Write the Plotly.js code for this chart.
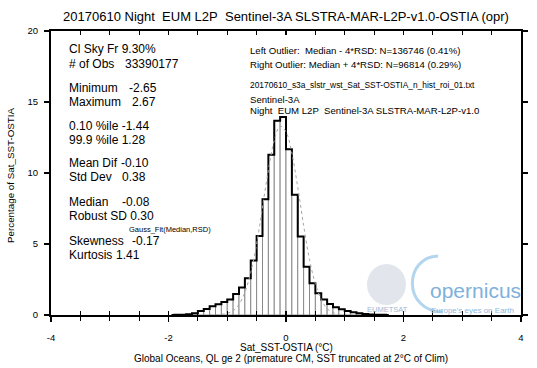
<!DOCTYPE html>
<html>
<head>
<meta charset="utf-8">
<script src="https://cdn.plot.ly/plotly-3.0.1.min.js"></script>
<style>html,body{margin:0;padding:0;background:#fff}#chart{width:537px;height:368px}</style>
</head>
<body>
<div id="chart"></div>
<script>
// ---- data ----
const binCenters = [-1.85,-1.75,-1.65,-1.55,-1.45,-1.35,-1.25,-1.15,-1.05,-0.95,-0.85,-0.75,-0.65,-0.55,-0.45,-0.35,-0.25,-0.15,-0.05,
                    0.05,0.15,0.25,0.35,0.45,0.55,0.65,0.75,0.85,0.95,1.05,1.15,1.25,1.35,1.45,1.55,1.65];
const pctValues  = [0.01,0.02,0.05,0.12,0.28,0.42,0.61,0.75,0.92,1.10,1.48,1.93,2.59,3.83,5.57,8.16,11.28,13.68,13.94,
                    11.68,8.46,5.52,3.40,2.23,1.53,1.10,0.78,0.54,0.40,0.28,0.19,0.12,0.07,0.04,0.02,0.01];
const binWidth = 0.1;
const gaussX = [-1.3,-1.1,-1.0,-0.9,-0.8,-0.7,-0.6,-0.5,-0.4,-0.3,-0.2,-0.1,0.0,0.1,0.2,0.3,0.4,0.5,0.6,0.7,0.8,0.9,1.1];
const gaussY = [0.0,0.04,0.12,0.3,0.75,1.6,3.0,5.0,7.6,10.2,12.3,13.3,12.9,11.4,9.0,6.3,3.9,2.2,1.1,0.45,0.17,0.05,0.0];
const xTickVals = [-4,-2,0,2,4];
const xTickText = ['-4','-2','0','2','4'];
const yTickVals = [0,5,10,15,20];
const yTickText = ['0','5','10','15','20'];
const statLabels = ['Cl Sky Fr 9.30%','# of Obs','Minimum','Maximum','0.10 %ile -1.44','99.9 %ile 1.28',
                    'Mean Dif','Std Dev','Median','Robust SD 0.30','Skewness','Kurtosis'];
const statValues = ['','33390177','-2.65','2.67','','','-0.10','0.38','-0.08','','-0.17','1.41'];
const infoLines = ['Left Outlier:\u00a0 Median - 4*RSD: N=136746 (0.41%)','Right Outlier: Median + 4*RSD: N=96814 (0.29%)'];
const fileLine = '20170610_s3a_slstr_wst_Sat_SST-OSTIA_n_hist_roi_01.txt';
const sensorLines = ['Sentinel-3A','Night\u00a0 EUM L2P\u00a0 Sentinel-3A SLSTRA-MAR-L2P-v1.0'];
const titleText = '20170610 Night\u00a0 EUM L2P\u00a0 Sentinel-3A SLSTRA-MAR-L2P-v1.0-OSTIA (opr)';
const xTitle = 'Sat_SST-OSTIA (\u00b0C)';
const xSubTitle = 'Global Oceans, QL ge 2 (premature CM, SST truncated at 2\u00b0C of Clim)';
const yTitle = 'Percentage of Sat_SST-OSTIA';

// ---- layout geometry ----
const W = 537, H = 368, mL = 51, mR = 16, mT = 31, mB = 53;
const pw = W - mL - mR, ph = H - mT - mB;
const px = v => (v - mL) / pw;          // pixel -> paper x
const py = v => (H - mB - v) / ph;      // pixel -> paper y
const FONT = 'Liberation Sans, Arial, sans-serif';

// step outline derived from the histogram arrays
const stepX = [binCenters[0] - binWidth].concat(binCenters, [binCenters[binCenters.length - 1] + binWidth]);
const stepY = [0].concat(pctValues, [0]);

const traces = [
  {type:'bar', x: binCenters, y: pctValues, width: binWidth,
   marker:{color:'#ffffff', line:{color:'#8a8a8a', width:1}}, hoverinfo:'skip'},
  {type:'scatter', mode:'lines', x: gaussX, y: gaussY, xaxis:'x2',
   line:{color:'#a8a8a8', width:1, dash:'dot', shape:'spline'}, hoverinfo:'skip'},
  {type:'scatter', mode:'lines', x: stepX, y: stepY,
   line:{color:'#000000', width:2, shape:'hvh'}, hoverinfo:'skip'}
];

const ann = [];
const statY = [49.5, 64, 88, 102, 126, 140, 163, 177, 202, 216, 241, 255];
const valX  = [0, 122.5, 127, 130, 0, 0, 119, 120, 120, 0, 130, 113.5];
statLabels.forEach((t, i) => {
  ann.push({text:t, xref:'paper', yref:'paper', x:px(66.5), y:py(statY[i]),
    xanchor:'left', yanchor:'middle', showarrow:false, font:{family:FONT, size:12, color:'#000'}});
  if (statValues[i]) ann.push({text:statValues[i], xref:'paper', yref:'paper', x:px(valX[i]), y:py(statY[i]),
    xanchor:'left', yanchor:'middle', showarrow:false, font:{family:FONT, size:12, color:'#000'}});
});
ann.push({text:'Gauss_Fit(Median,RSD)', xref:'paper', yref:'paper', x:px(127), y:py(229),
  xanchor:'left', yanchor:'middle', showarrow:false, font:{family:FONT, size:7.5, color:'#000'}});
[50.5, 65].forEach((yy, i) => ann.push({text:infoLines[i], xref:'paper', yref:'paper', x:px(248), y:py(yy),
  xanchor:'left', yanchor:'middle', showarrow:false, font:{family:FONT, size:9.6, color:'#000'}}));
ann.push({text:fileLine, xref:'paper', yref:'paper', x:px(248), y:py(84.5),
  xanchor:'left', yanchor:'middle', showarrow:false, font:{family:FONT, size:8.4, color:'#000'}});
[99.5, 110.5].forEach((yy, i) => ann.push({text:sensorLines[i], xref:'paper', yref:'paper', x:px(248), y:py(yy),
  xanchor:'left', yanchor:'middle', showarrow:false, font:{family:FONT, size:9.6, color:'#000'}}));
// axis titles
ann.push({text:yTitle, xref:'paper', yref:'paper', x:px(10), y:py(175), textangle:-90,
  xanchor:'center', yanchor:'middle', showarrow:false, font:{family:FONT, size:9.8, color:'#000'}});
ann.push({text:xTitle, xref:'paper', yref:'paper', x:px(286), y:py(347),
  xanchor:'center', yanchor:'middle', showarrow:false, font:{family:FONT, size:10, color:'#000'}});
ann.push({text:xSubTitle, xref:'paper', yref:'paper', x:px(291), y:py(358.5),
  xanchor:'center', yanchor:'middle', showarrow:false, font:{family:FONT, size:10, color:'#000'}});
// logo texts
ann.push({text:'opernicus', xref:'paper', yref:'paper', x:px(428), y:py(290),
  xanchor:'left', yanchor:'middle', showarrow:false, font:{family:FONT, size:21, color:'#7eb1dc'}});
ann.push({text:"Europe's eyes on Earth", xref:'paper', yref:'paper', x:px(429), y:py(310.5),
  xanchor:'left', yanchor:'middle', showarrow:false, font:{family:FONT, size:8, color:'#8fb8de'}});
ann.push({text:'EUMETSAT', xref:'paper', yref:'paper', x:px(387), y:py(309.5),
  xanchor:'center', yanchor:'middle', showarrow:false, font:{family:FONT, size:7.5, color:'#9db8d4'}});

const P = (x, y) => px(x).toFixed(5) + ',' + py(y).toFixed(5);
const shapes = [
  {type:'circle', xref:'paper', yref:'paper', x0:px(367), x1:px(406), y0:py(305), y1:py(264),
   fillcolor:'#e2e6ec', line:{width:0}, layer:'below'},
  {type:'path', xref:'paper', yref:'paper', layer:'below',
   path:'M' + P(438, 256) + ' C' + P(404, 257) + ' ' + P(402, 311) + ' ' + P(443, 312),
   line:{color:'#b3d5ee', width:3}}
];

const axisCommon = {showgrid:false, zeroline:false, linecolor:'#000', linewidth:2,
  tickcolor:'#000', tickwidth:1.3, tickfont:{family:FONT, size:9.5, color:'#000'}};

const layout = {
  width: W, height: H,
  margin:{l:mL, r:mR, t:mT, b:mB, pad:0},
  paper_bgcolor:'#fff', plot_bgcolor:'#fff',
  showlegend:false, bargap:0,
  title:{text:titleText, x:px(286), xref:'paper', y:1 - 16/H, yref:'container', xanchor:'center', yanchor:'middle',
         font:{family:FONT, size:13, color:'#000'}},
  xaxis: Object.assign({}, axisCommon, {range:[-4,4], tickmode:'array', tickvals:xTickVals, ticktext:xTickText,
    ticks:'outside', ticklen:5, ticklabelstandoff:8, mirror:true,
    minor:{dtick:0.5, ticks:'outside', ticklen:4, tickcolor:'#000', tickwidth:1.2}}),
  xaxis2: {overlaying:'x', anchor:'y', side:'bottom', range:[-4,4], showgrid:false, zeroline:false, showline:false,
    showticklabels:false, ticks:'inside', ticklen:4, tickcolor:'#000', tickwidth:1.2, dtick:0.5, tick0:0, mirror:'ticks'},
  yaxis: Object.assign({}, axisCommon, {range:[0,20], tickmode:'array', tickvals:yTickVals, ticktext:yTickText,
    ticks:'outside', ticklen:5, ticklabelstandoff:4, mirror:'ticks'}),
  annotations: ann,
  shapes: shapes
};

Plotly.newPlot('chart', traces, layout, {staticPlot:true, displayModeBar:false});
</script>
</body>
</html>
